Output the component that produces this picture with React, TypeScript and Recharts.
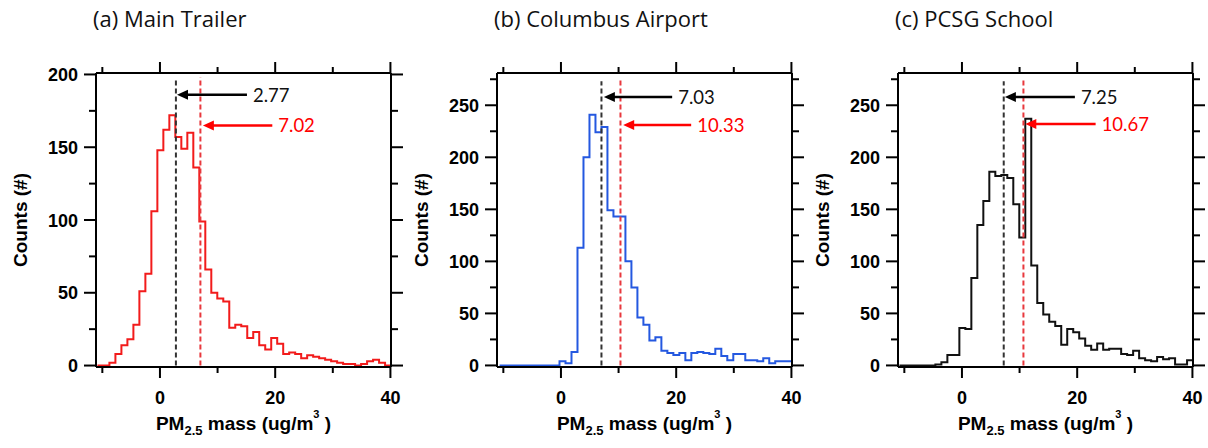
import React from 'react';
import { ComposedChart, Line, XAxis, YAxis, ReferenceLine } from 'recharts';

// histogram bins (ug/m3)
const binWidth = 1.04;

// (a) Main Trailer
const trailerStart = -10.85;
const trailerCounts = [
  0, 0, 2, 8, 14, 18, 28, 51, 63, 106, 148, 162, 172, 157, 149, 160, 136, 99, 66, 50,
  46, 44, 26, 28, 27, 19, 23, 14, 11, 19, 15, 8, 9, 8, 5, 7, 6, 5, 4, 3,
  2, 1, 1, 0, 1, 3, 4, 2, 0,
];

// (b) Columbus Airport
const airportStart = -10.65;
const airportCounts = [
  0, 0, 0, 0, 0, 0, 0, 0, 0, 0, 4, 2, 13, 113, 200, 241, 224, 229, 149, 143,
  143, 100, 75, 46, 39, 24, 27, 14, 12, 10, 12, 5, 12, 13, 12, 11, 16, 9, 5, 11,
  11, 5, 5, 4, 7, 2, 4, 4, 4,
];

// (c) PCSG School
const schoolStart = -10.85;
const schoolCounts = [
  0, 0, 0, 0, 0, 0, 1, 3, 10, 10, 36, 35, 84, 135, 158, 186, 182, 183, 180, 155,
  123, 237, 96, 60, 49, 42, 38, 20, 35, 32, 26, 19, 15, 21, 15, 16, 16, 11, 10, 14,
  7, 5, 4, 8, 6, 7, 1, 1, 5,
];

const titles = ['(a) Main Trailer', '(b) Columbus Airport', '(c) PCSG School'];
const medians = [2.77, 7.03, 7.25];
const means = [7.02, 10.33, 10.67];
const lineColors = ['#f21b1b', '#2458e0', '#111111'];

const xTicks = [-10, 0, 10, 20, 30, 40];
const xMajor = [0, 20, 40];
const yTicksA = [0, 25, 50, 75, 100, 125, 150, 175, 200];
const yTicksBC = [0, 25, 50, 75, 100, 125, 150, 175, 200, 225, 250, 275];

const buildSteps = (start: number, counts: number[]) => {
  const pts = counts.map((c, i) => ({ x: start + i * binWidth, y: c }));
  pts.push({ x: start + counts.length * binWidth, y: counts[counts.length - 1] });
  return pts;
};

const panels = [
  {
    data: buildSteps(trailerStart, trailerCounts),
    left: 96, right: 391, yDomain: [-1, 201], yTicks: yTicksA, dashTop: 196,
    medArrow: { y: 186, tip: 2.96, tail: 15.1 },
    meanArrow: { y: 165, tip: 7.45, tail: 19.5 },
  },
  {
    data: buildSteps(airportStart, airportCounts),
    left: 497, right: 792, yDomain: [-1.5, 281], yTicks: yTicksBC, dashTop: 273,
    medArrow: { y: 258, tip: 7.45, tail: 19.3 },
    meanArrow: { y: 231, tip: 10.8, tail: 22.6 },
  },
  {
    data: buildSteps(schoolStart, schoolCounts),
    left: 898, right: 1193, yDomain: [-1.5, 281], yTicks: yTicksBC, dashTop: 273,
    medArrow: { y: 258, tip: 7.45, tail: 19.6 },
    meanArrow: { y: 232, tip: 11.0, tail: 23.2 },
  },
];

const TOP = 73;
const BOTTOM = 367;
const tickFont = '"Liberation Sans", Arial, sans-serif';
const textFont = 'Lato, "Open Sans", sans-serif';
const titleFont = '"Open Sans", Lato, sans-serif';

const isMajorY = (v: number) => v % 50 === 0;

const LeftTick = ({ x, y, payload }: any) => {
  const major = isMajorY(payload.value);
  return (
    <g>
      <line x1={x} y1={y} x2={x - (major ? 12 : 7)} y2={y} stroke="#000" strokeWidth={2} />
      {major && (
        <text x={x - 18} y={y + 6.5} textAnchor="end" fontSize={18} fontWeight="bold" fontFamily={tickFont} fill="#000">
          {payload.value}
        </text>
      )}
    </g>
  );
};

const RightTick = ({ x, y, payload }: any) => {
  const major = isMajorY(payload.value);
  return <line x1={x} y1={y} x2={x + (major ? 12 : 7)} y2={y} stroke="#000" strokeWidth={2} />;
};

const BottomTick = ({ x, y, payload }: any) => {
  const major = xMajor.includes(payload.value);
  return (
    <g>
      <line x1={x} y1={y} x2={x} y2={y + (major ? 11 : 6)} stroke="#000" strokeWidth={2} />
      {major && (
        <text x={x} y={y + 37} textAnchor="middle" fontSize={18} fontWeight="bold" fontFamily={tickFont} fill="#000">
          {payload.value}
        </text>
      )}
    </g>
  );
};

const TopTick = ({ x, y, payload }: any) => {
  const major = xMajor.includes(payload.value);
  return <line x1={x} y1={y} x2={x} y2={y - (major ? 11 : 6)} stroke="#000" strokeWidth={2} />;
};

const arrowShape = (color: string, textColor: string, label: string) => (props: any) => {
  const { x1, y1, x2 } = props;
  return (
    <g>
      <line x1={x2} y1={y1} x2={x1 + 8} y2={y1} stroke={color} strokeWidth={2.5} />
      <polygon points={`${x1},${y1} ${x1 + 11},${y1 - 5} ${x1 + 11},${y1 + 5}`} fill={color} />
      <text x={x2 + 6} y={y1} dominantBaseline="central" fontSize={18.5} fontFamily={textFont} fill={textColor}>
        {label}
      </text>
    </g>
  );
};

const Panel = ({ idx }: { idx: number }) => {
  const p = panels[idx];
  const plotW = p.right - p.left;
  const width = plotW + 100 + 16;
  return (
    <div style={{ position: 'absolute', left: p.left - 100, top: 0 }}>
      <ComposedChart width={width} height={448} data={p.data} margin={{ top: TOP - 1, right: 0, bottom: 0, left: 0 }}>
        <XAxis
          xAxisId="b" dataKey="x" type="number" domain={[-11.1, 40.1]} allowDataOverflow
          ticks={xTicks} interval={0} tickSize={0} tickMargin={0} tick={BottomTick}
          tickLine={false} axisLine={{ stroke: '#000', strokeWidth: 2 }} height={448 - BOTTOM}
        />
        <XAxis
          xAxisId="t" orientation="top" dataKey="x" type="number" domain={[-11.1, 40.1]} allowDataOverflow
          ticks={xTicks} interval={0} tickSize={0} tickMargin={0} tick={TopTick}
          tickLine={false} axisLine={{ stroke: '#000', strokeWidth: 2 }} height={1}
        />
        <YAxis
          yAxisId="l" type="number" domain={p.yDomain} allowDataOverflow ticks={p.yTicks} interval={0}
          tickSize={0} tickMargin={0} tick={LeftTick} tickLine={false}
          axisLine={{ stroke: '#000', strokeWidth: 2 }} width={100}
        />
        <YAxis
          yAxisId="r" orientation="right" type="number" domain={p.yDomain} allowDataOverflow ticks={p.yTicks} interval={0}
          tickSize={0} tickMargin={0} tick={RightTick} tickLine={false}
          axisLine={{ stroke: '#000', strokeWidth: 2 }} width={16}
        />
        <Line
          xAxisId="b" yAxisId="l" type="stepAfter" dataKey="y" stroke={lineColors[idx]} strokeWidth={2}
          dot={false} isAnimationActive={false}
        />
        <ReferenceLine
          xAxisId="b" yAxisId="l"
          segment={[{ x: medians[idx], y: 0 }, { x: medians[idx], y: p.dashTop }]}
          stroke="#333" strokeWidth={2} strokeDasharray="5 3"
        />
        <ReferenceLine
          xAxisId="b" yAxisId="l"
          segment={[{ x: means[idx], y: 0 }, { x: means[idx], y: p.dashTop + 2 }]}
          stroke="#e8383d" strokeWidth={2} strokeDasharray="5 3"
        />
        <ReferenceLine
          xAxisId="b" yAxisId="l"
          segment={[{ x: p.medArrow.tip, y: p.medArrow.y }, { x: p.medArrow.tail, y: p.medArrow.y }]}
          shape={arrowShape('#000', '#111', medians[idx].toFixed(2))}
        />
        <ReferenceLine
          xAxisId="b" yAxisId="l"
          segment={[{ x: p.meanArrow.tip, y: p.meanArrow.y }, { x: p.meanArrow.tail, y: p.meanArrow.y }]}
          shape={arrowShape('#ff0000', '#ff0000', means[idx].toFixed(2))}
        />
      </ComposedChart>
    </div>
  );
};

export default function App() {
  return (
    <div style={{ position: 'absolute', left: 0, top: 0, width: 1208, height: 448, background: '#fff' }}>
      {panels.map((_, i) => (
        <Panel key={i} idx={i} />
      ))}
      <svg width={1208} height={448} style={{ position: 'absolute', left: 0, top: 0, pointerEvents: 'none' }}>
        {panels.map((p, i) => {
          const cx = (p.left + p.right) / 2;
          const cy = (TOP + BOTTOM) / 2;
          return (
            <g key={i}>
              <text x={p.left - 3} y={27} fontSize={22} fontFamily={titleFont} fill="#111">
                {titles[i]}
              </text>
              <text
                x={p.left - 76} y={cy} transform={`rotate(-90 ${p.left - 76} ${cy})`} textAnchor="middle"
                dominantBaseline="central" fontSize={19} fontWeight="bold" fontFamily={tickFont} fill="#000"
              >
                Counts (#)
              </text>
              <text x={cx} y={430} textAnchor="middle" fontSize={19} fontWeight="bold" fontFamily={tickFont} fill="#000">
                PM
                <tspan fontSize={13} dy={5}>2.5</tspan>
                <tspan dy={-5}> mass (ug/m</tspan>
                <tspan fontSize={11} dy={-12}>3</tspan>
                <tspan dy={12}> )</tspan>
              </text>
            </g>
          );
        })}
      </svg>
    </div>
  );
}
